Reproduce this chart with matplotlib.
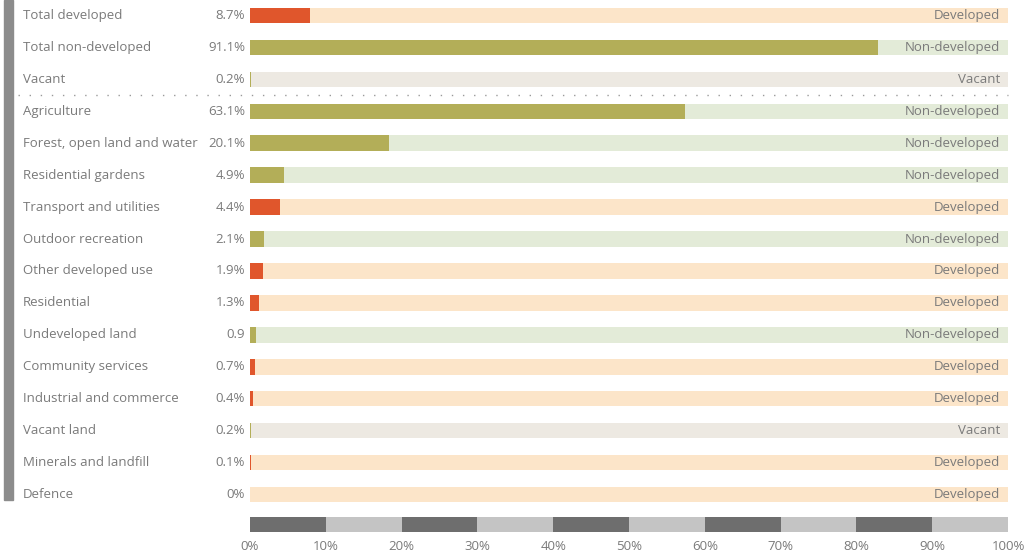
import matplotlib
matplotlib.use("Agg")
from matplotlib import pyplot as plt
from matplotlib.patches import Rectangle
import matplotlib.transforms as mtransforms

# data
categories = ["Total developed", "Total non-developed", "Vacant",
              "Agriculture", "Forest, open land and water", "Residential gardens",
              "Transport and utilities", "Outdoor recreation", "Other developed use",
              "Residential", "Undeveloped land", "Community services",
              "Industrial and commerce", "Vacant land", "Minerals and landfill", "Defence"]
values = [8.7, 91.1, 0.2, 63.1, 20.1, 4.9, 4.4, 2.1, 1.9, 1.3, 0.9, 0.7, 0.4, 0.2, 0.1, 0.0]
value_labels = ["8.7%", "91.1%", "0.2%", "63.1%", "20.1%", "4.9%", "4.4%", "2.1%", "1.9%",
                "1.3%", "0.9", "0.7%", "0.4%", "0.2%", "0.1%", "0%"]
types = ["Developed", "Non-developed", "Vacant", "Non-developed", "Non-developed",
         "Non-developed", "Developed", "Non-developed", "Developed", "Developed",
         "Non-developed", "Developed", "Developed", "Vacant", "Developed", "Developed"]
scale_ticks = [0, 10, 20, 30, 40, 50, 60, 70, 80, 90, 100]

bar_col = {"Developed": "#E0562C", "Non-developed": "#B3AE58", "Vacant": "#B3AE58"}
bg_col = {"Developed": "#FCE5C9", "Non-developed": "#E3EBD8", "Vacant": "#EDE9E2"}
txt = "#7A7A7A"

plt.rcParams['font.family'] = ['Open Sans', 'DejaVu Sans']
W, H = 1030, 557
fig = plt.figure(figsize=(W / 100, H / 100), dpi=100)

# bar area (bars drawn against a 0-110 scale, like the original)
ax = fig.add_axes([250 / W, 1 - 510 / H, 758 / W, 510 / H])
ax.set_xlim(0, 110)
ax.set_ylim(15.47, -0.47)
ax.axis("off")
n = len(categories)
for i in range(n):
    t = types[i]
    ax.barh(i, 110, height=0.47, left=0, color=bg_col[t], zorder=1)
    ax.barh(i, values[i], height=0.47, left=0, color=bar_col[t], zorder=2)
    ax.text(108.9, i, t, ha="right", va="center", color=txt, fontsize=9.5, zorder=3)

# labels on the left (x in figure fraction, y in row units)
tr_lab = mtransforms.blended_transform_factory(fig.transFigure, ax.transData)
for i in range(n):
    ax.text(23 / W, i, categories[i], transform=tr_lab, ha="left", va="center",
            color=txt, fontsize=9.5, clip_on=False)
    ax.text(245 / W, i, value_labels[i], transform=tr_lab, ha="right", va="center",
            color=txt, fontsize=9.5, clip_on=False)

# dotted separator between totals and categories
ax.plot([-232 / 758 * 110, 110], [2.5, 2.5], linestyle=(0, (1, 7)), color="#9A9A9A",
        linewidth=1.0, clip_on=False, zorder=3)

# grey side bar
fig.patches.append(Rectangle((4 / W, 1 - 500 / H), 9 / W, 500 / H, transform=fig.transFigure,
                             color="#8C8C8C", zorder=0))

# bottom scale
axs = fig.add_axes([250 / W, 1 - 532 / H, 758 / W, 15 / H])
axs.set_xlim(0, 100)
axs.set_ylim(0, 1)
for k in range(len(scale_ticks) - 1):
    c = "#6E6E6E" if k % 2 == 0 else "#C4C4C4"
    axs.bar(scale_ticks[k], 1, width=scale_ticks[k + 1] - scale_ticks[k], align="edge", color=c)
for s in axs.spines.values():
    s.set_visible(False)
axs.set_yticks([])
axs.set_xticks(scale_ticks)
axs.set_xticklabels([f"{v}%" for v in scale_ticks], color=txt, fontsize=9.5)
axs.tick_params(axis="x", length=0, pad=6)

fig.savefig("out.png", dpi=100)
